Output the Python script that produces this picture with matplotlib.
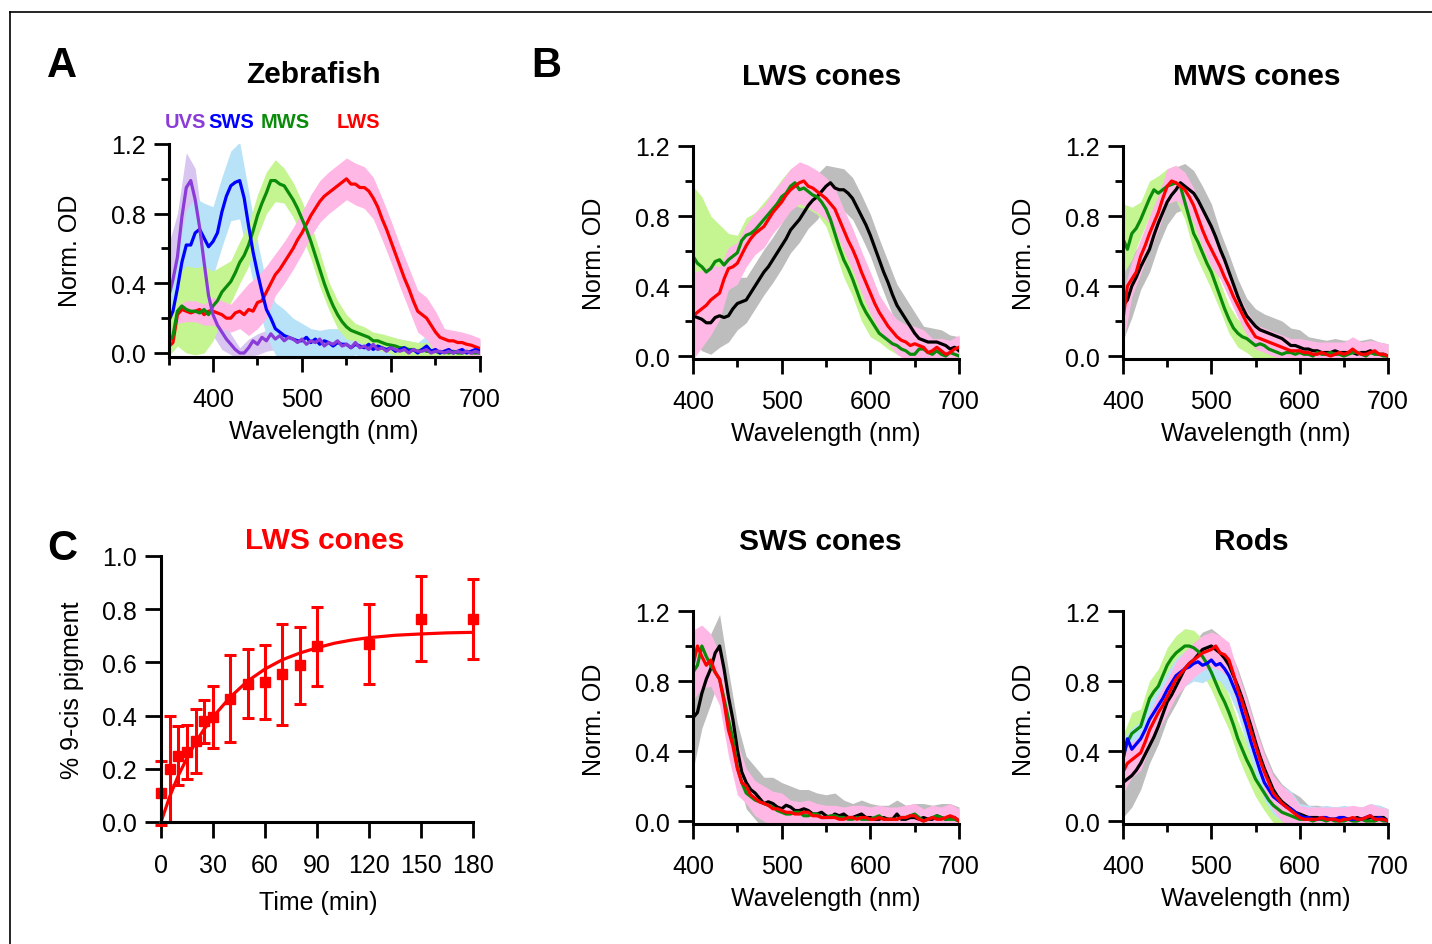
import numpy as np
import matplotlib
matplotlib.use("Agg")
import matplotlib.pyplot as plt
from matplotlib.lines import Line2D
from matplotlib.ticker import MultipleLocator

plt.rcParams["font.family"] = ["Liberation Sans", "DejaVu Sans"]

W, H = 1432, 945

# ---- data -------------------------------------------------------------
# panel A, 350-700 nm in 5 nm steps (bands in 10 nm steps)
wl_a = np.arange(350, 701, 5)
a_uvs = [0.32, 0.42, 0.55, 0.78, 0.95, 0.99, 0.88, 0.72, 0.52, 0.33,
         0.22, 0.16, 0.12, 0.08, 0.05, 0.02, 0.00, 0.00, 0.03, 0.07,
         0.05, 0.09, 0.07, 0.11, 0.08, 0.10, 0.07, 0.09, 0.08, 0.06,
         0.08, 0.05, 0.07, 0.06, 0.08, 0.04, 0.06, 0.05, 0.07, 0.04,
         0.05, 0.03, 0.06, 0.03, 0.04, 0.02, 0.05, 0.02, 0.03, 0.01,
         0.03, 0.02, 0.01, 0.02, 0.00, 0.02, 0.01, 0.01, 0.02, 0.00,
         0.01, 0.01, 0.00, 0.01, 0.00, 0.01, 0.00, 0.01, 0.00, 0.01,
         0.00]
a_sws = [0.18, 0.24, 0.37, 0.52, 0.62, 0.62, 0.69, 0.71, 0.66, 0.61,
         0.64, 0.69, 0.81, 0.90, 0.96, 0.98, 0.99, 0.89, 0.73, 0.58,
         0.46, 0.35, 0.25, 0.20, 0.14, 0.12, 0.10, 0.09, 0.08, 0.07,
         0.07, 0.09, 0.06, 0.08, 0.05, 0.07, 0.06, 0.04, 0.06, 0.05,
         0.05, 0.03, 0.05, 0.04, 0.03, 0.05, 0.02, 0.04, 0.03, 0.02,
         0.03, 0.01, 0.02, 0.03, 0.01, 0.02, 0.00, 0.02, 0.04, 0.01,
         0.02, 0.00, 0.01, 0.02, 0.00, 0.01, 0.02, 0.00, 0.01, 0.02,
         0.01]
a_mws = [0.06, 0.10, 0.24, 0.27, 0.25, 0.24, 0.24, 0.23, 0.25, 0.22,
         0.27, 0.30, 0.35, 0.38, 0.41, 0.46, 0.52, 0.56, 0.62, 0.70,
         0.79, 0.86, 0.92, 0.99, 0.99, 0.97, 0.96, 0.92, 0.88, 0.83,
         0.77, 0.71, 0.64, 0.56, 0.48, 0.40, 0.33, 0.27, 0.22, 0.18,
         0.15, 0.13, 0.12, 0.11, 0.10, 0.09, 0.07, 0.07, 0.06, 0.05,
         0.045, 0.04, 0.03, 0.03, 0.02, 0.02, 0.01, 0.02, 0.01, 0.01,
         0.01, 0.00, 0.01, 0.00, 0.01, 0.00, 0.00, 0.01, 0.00, 0.00,
         0.00]
a_lws = [0.035, 0.06, 0.22, 0.25, 0.24, 0.23, 0.24, 0.25, 0.22, 0.24,
         0.24, 0.23, 0.22, 0.20, 0.20, 0.23, 0.24, 0.22, 0.25, 0.24,
         0.29, 0.30, 0.35, 0.40, 0.45, 0.48, 0.52, 0.56, 0.60, 0.65,
         0.69, 0.74, 0.79, 0.83, 0.87, 0.90, 0.92, 0.94, 0.96, 0.98,
         1.00, 0.97, 0.97, 0.95, 0.95, 0.93, 0.89, 0.84, 0.77, 0.71,
         0.64, 0.57, 0.50, 0.43, 0.37, 0.30, 0.24, 0.22, 0.20, 0.16,
         0.12, 0.09, 0.08, 0.07, 0.07, 0.06, 0.06, 0.05, 0.045, 0.035,
         0.025]
a_uvs_sd = [0.30, 0.25, 0.20, 0.18, 0.15, 0.12, 0.10, 0.06, 0.03, 0.05,
            0.06, 0.06, 0.06, 0.06, 0.05, 0.05, 0.05, 0.05, 0.05, 0.05,
            0.04, 0.04, 0.04, 0.04, 0.04, 0.04, 0.04, 0.03, 0.03, 0.03,
            0.03, 0.03, 0.03, 0.03, 0.03, 0.03]
a_sws_sd = [0.15, 0.20, 0.20, 0.20, 0.20, 0.20, 0.20, 0.20, 0.22, 0.20,
            0.18, 0.15, 0.15, 0.15, 0.12, 0.10, 0.08, 0.08, 0.08, 0.08,
            0.08, 0.06, 0.06, 0.06, 0.06, 0.06, 0.06, 0.06, 0.06, 0.06,
            0.06, 0.06, 0.06, 0.06, 0.06, 0.06]
a_mws_sd = [0.08, 0.20, 0.25, 0.25, 0.25, 0.20, 0.15, 0.12, 0.12, 0.12,
            0.12, 0.12, 0.12, 0.10, 0.10, 0.10, 0.10, 0.10, 0.08, 0.08,
            0.07, 0.05, 0.05, 0.05, 0.05, 0.05, 0.05, 0.05, 0.05, 0.05,
            0.05, 0.05, 0.05, 0.05, 0.05, 0.05]
a_lws_sd = [0.03, 0.05, 0.06, 0.06, 0.06, 0.08, 0.08, 0.08, 0.10, 0.15,
            0.15, 0.15, 0.12, 0.12, 0.12, 0.12, 0.12, 0.12, 0.12, 0.12,
            0.12, 0.12, 0.12, 0.12, 0.12, 0.12, 0.12, 0.12, 0.12, 0.12,
            0.12, 0.06, 0.06, 0.06, 0.06, 0.06]

# panel B, 400-700 nm
wl_b = np.arange(400, 701, 5)
lws_green = [0.57, 0.53, 0.51, 0.48, 0.50, 0.54, 0.55, 0.52, 0.55, 0.57,
             0.59, 0.66, 0.69, 0.70, 0.72, 0.75, 0.78, 0.81, 0.84, 0.87,
             0.91, 0.93, 0.97, 0.99, 0.95, 0.96, 0.94, 0.92, 0.91, 0.88,
             0.84, 0.78, 0.70, 0.62, 0.55, 0.50, 0.44, 0.37, 0.30, 0.25,
             0.21, 0.17, 0.13, 0.11, 0.09, 0.07, 0.06, 0.04, 0.03, 0.01,
             0.01, 0.04, 0.04, 0.02, 0.01, 0.03, 0.01, 0.00, 0.02, 0.01,
             0.00]
lws_red = [0.23, 0.25, 0.27, 0.29, 0.32, 0.34, 0.36, 0.44, 0.50, 0.51,
           0.53, 0.58, 0.63, 0.67, 0.70, 0.72, 0.74, 0.78, 0.82, 0.85,
           0.88, 0.92, 0.95, 0.97, 0.99, 1.00, 0.97, 0.96, 0.94, 0.92,
           0.90, 0.87, 0.84, 0.78, 0.72, 0.66, 0.61, 0.55, 0.48, 0.42,
           0.36, 0.30, 0.25, 0.21, 0.17, 0.14, 0.11, 0.09, 0.08, 0.06,
           0.07, 0.06, 0.05, 0.02, 0.03, 0.05, 0.03, 0.01, 0.02, 0.04,
           0.05]
lws_black = [0.23, 0.22, 0.21, 0.19, 0.19, 0.22, 0.23, 0.22, 0.23, 0.27,
             0.30, 0.31, 0.32, 0.36, 0.40, 0.44, 0.48, 0.51, 0.55, 0.59,
             0.63, 0.67, 0.72, 0.75, 0.78, 0.82, 0.86, 0.89, 0.91, 0.94,
             0.97, 0.99, 0.96, 0.95, 0.95, 0.93, 0.90, 0.85, 0.80, 0.75,
             0.69, 0.62, 0.55, 0.48, 0.42, 0.35, 0.29, 0.25, 0.21, 0.17,
             0.13, 0.10, 0.09, 0.08, 0.08, 0.08, 0.07, 0.06, 0.04, 0.05,
             0.03]
lws_green_sd = [0.40, 0.40, 0.30, 0.20, 0.15, 0.10, 0.10, 0.10, 0.10, 0.10,
                0.10, 0.10, 0.10, 0.10, 0.10, 0.10, 0.10, 0.10, 0.10, 0.10,
                0.10, 0.05, 0.05, 0.05, 0.05, 0.05, 0.05, 0.05, 0.05, 0.05,
                0.05]
lws_red_sd = [0.25, 0.22, 0.20, 0.15, 0.12, 0.12, 0.12, 0.12, 0.12, 0.12,
              0.12, 0.12, 0.12, 0.12, 0.12, 0.12, 0.12, 0.12, 0.12, 0.12,
              0.12, 0.10, 0.10, 0.10, 0.10, 0.10, 0.10, 0.07, 0.07, 0.07,
              0.07]
lws_black_sd = [0.15, 0.18, 0.18, 0.18, 0.15, 0.15, 0.13, 0.13, 0.13, 0.13,
                0.13, 0.13, 0.13, 0.13, 0.13, 0.12, 0.12, 0.12, 0.12, 0.12,
                0.12, 0.12, 0.12, 0.12, 0.12, 0.12, 0.08, 0.08, 0.08, 0.08,
                0.08]

mws_green = [0.67, 0.61, 0.70, 0.73, 0.78, 0.84, 0.90, 0.95, 0.93, 0.95,
             0.97, 0.98, 0.99, 0.97, 0.88, 0.79, 0.70, 0.65, 0.59, 0.53,
             0.48, 0.41, 0.34, 0.27, 0.21, 0.16, 0.13, 0.11, 0.10, 0.08,
             0.06, 0.07, 0.06, 0.04, 0.03, 0.02, 0.01, 0.02, 0.02, 0.01,
             0.02, 0.01, 0.01, 0.00, 0.02, 0.01, 0.01, 0.02, 0.01, 0.01,
             0.00, 0.01, 0.02, 0.02, 0.01, 0.00, 0.02, 0.01, 0.01, 0.00,
             0.00]
mws_red = [0.21, 0.40, 0.44, 0.48, 0.57, 0.63, 0.70, 0.76, 0.82, 0.90,
           0.97, 1.00, 0.99, 0.97, 0.95, 0.91, 0.86, 0.79, 0.72, 0.66,
           0.61, 0.56, 0.51, 0.45, 0.40, 0.34, 0.29, 0.24, 0.19, 0.15,
           0.11, 0.10, 0.09, 0.08, 0.07, 0.06, 0.05, 0.04, 0.03, 0.03,
           0.03, 0.02, 0.02, 0.01, 0.01, 0.02, 0.01, 0.00, 0.01, 0.02,
           0.01, 0.02, 0.04, 0.02, 0.01, 0.01, 0.02, 0.03, 0.01, 0.01,
           0.00]
mws_black = [0.29, 0.32, 0.40, 0.45, 0.51, 0.56, 0.61, 0.69, 0.76, 0.82,
             0.88, 0.92, 0.95, 0.99, 0.97, 0.95, 0.93, 0.89, 0.84, 0.79,
             0.74, 0.68, 0.61, 0.55, 0.48, 0.41, 0.34, 0.28, 0.23, 0.20,
             0.17, 0.15, 0.14, 0.13, 0.12, 0.11, 0.10, 0.08, 0.06, 0.06,
             0.05, 0.04, 0.04, 0.03, 0.03, 0.02, 0.02, 0.02, 0.03, 0.02,
             0.02, 0.02, 0.02, 0.01, 0.02, 0.02, 0.03, 0.02, 0.01, 0.01,
             0.00]
mws_green_sd = [0.20, 0.15, 0.10, 0.10, 0.10, 0.10, 0.10, 0.10, 0.10, 0.10,
                0.10, 0.08, 0.08, 0.08, 0.08, 0.08, 0.08, 0.04, 0.04, 0.04,
                0.04, 0.04, 0.04, 0.04, 0.04, 0.04, 0.04, 0.04, 0.04, 0.04,
                0.04]
mws_red_sd = [0.15, 0.10, 0.10, 0.10, 0.10, 0.10, 0.10, 0.10, 0.10, 0.10,
              0.10, 0.07, 0.07, 0.07, 0.07, 0.07, 0.07, 0.07, 0.07, 0.07,
              0.07, 0.07, 0.07, 0.07, 0.07, 0.07, 0.07, 0.07, 0.07, 0.07,
              0.07]
mws_black_sd = [0.20, 0.18, 0.13, 0.13, 0.13, 0.13, 0.13, 0.13, 0.13, 0.13,
                0.13, 0.10, 0.10, 0.10, 0.10, 0.10, 0.10, 0.10, 0.10, 0.10,
                0.10, 0.07, 0.07, 0.07, 0.07, 0.07, 0.07, 0.07, 0.07, 0.07,
                0.07]

sws_black = [0.59, 0.62, 0.73, 0.81, 0.87, 0.96, 1.00, 0.87, 0.71, 0.58,
             0.41, 0.28, 0.22, 0.18, 0.16, 0.13, 0.10, 0.11, 0.10, 0.08,
             0.07, 0.09, 0.08, 0.06, 0.06, 0.07, 0.06, 0.04, 0.04, 0.05,
             0.03, 0.02, 0.04, 0.03, 0.04, 0.02, 0.02, 0.03, 0.04, 0.02,
             0.02, 0.01, 0.01, 0.02, 0.01, 0.01, 0.04, 0.01, 0.01, 0.02,
             0.02, 0.01, 0.02, 0.01, 0.01, 0.03, 0.02, 0.01, 0.02, 0.02,
             0.00]
sws_green = [0.85, 0.89, 1.00, 0.94, 0.89, 0.85, 0.81, 0.70, 0.58, 0.47,
             0.31, 0.22, 0.16, 0.14, 0.12, 0.11, 0.10, 0.09, 0.08, 0.06,
             0.05, 0.04, 0.04, 0.05, 0.05, 0.03, 0.03, 0.04, 0.04, 0.02,
             0.02, 0.03, 0.03, 0.02, 0.02, 0.01, 0.01, 0.02, 0.01, 0.01,
             0.01, 0.02, 0.03, 0.01, 0.01, 0.01, 0.01, 0.02, 0.02, 0.03,
             0.04, 0.02, 0.00, 0.01, 0.02, 0.03, 0.02, 0.01, 0.01, 0.01,
             0.00]
sws_red = [0.89, 1.00, 0.94, 0.89, 0.92, 0.85, 0.81, 0.68, 0.52, 0.43,
           0.30, 0.22, 0.20, 0.15, 0.13, 0.11, 0.10, 0.09, 0.07, 0.07,
           0.06, 0.05, 0.05, 0.04, 0.04, 0.05, 0.05, 0.03, 0.03, 0.02,
           0.02, 0.02, 0.02, 0.01, 0.01, 0.02, 0.02, 0.01, 0.02, 0.02,
           0.01, 0.01, 0.02, 0.01, 0.01, 0.01, 0.01, 0.02, 0.02, 0.03,
           0.03, 0.01, 0.00, 0.01, 0.02, 0.01, 0.01, 0.02, 0.03, 0.02,
           0.00]
sws_green_sd = [0.10, 0.10, 0.10, 0.10, 0.10, 0.08, 0.06, 0.05, 0.05, 0.05,
                0.05, 0.05, 0.05, 0.05, 0.05, 0.05, 0.05, 0.05, 0.05, 0.05,
                0.05, 0.05, 0.05, 0.05, 0.05, 0.05, 0.05, 0.05, 0.05, 0.05,
                0.05]
sws_red_sd = [0.20, 0.18, 0.15, 0.15, 0.15, 0.15, 0.10, 0.10, 0.10, 0.10,
              0.10, 0.07, 0.07, 0.07, 0.07, 0.07, 0.07, 0.07, 0.07, 0.07,
              0.07, 0.07, 0.07, 0.07, 0.07, 0.07, 0.07, 0.07, 0.07, 0.07,
              0.07]
sws_black_sd = [0.30, 0.20, 0.20, 0.18, 0.15, 0.15, 0.15, 0.15, 0.15, 0.15,
                0.15, 0.12, 0.12, 0.12, 0.12, 0.12, 0.12, 0.08, 0.08, 0.08,
                0.08, 0.08, 0.08, 0.08, 0.08, 0.08, 0.08, 0.08, 0.08, 0.08,
                0.08]

rod_green = [0.37, 0.45, 0.50, 0.52, 0.54, 0.62, 0.70, 0.74, 0.77, 0.83,
             0.89, 0.93, 0.96, 0.98, 1.00, 1.00, 0.99, 0.97, 0.94, 0.90,
             0.85, 0.79, 0.73, 0.68, 0.62, 0.55, 0.47, 0.41, 0.35, 0.30,
             0.24, 0.20, 0.16, 0.12, 0.09, 0.07, 0.05, 0.04, 0.03, 0.02,
             0.01, 0.01, 0.01, 0.00, 0.01, 0.01, 0.00, 0.01, 0.00, 0.00,
             0.00, 0.01, 0.00, 0.00, 0.01, 0.00, 0.00, 0.00, 0.01, 0.00,
             0.00]
rod_blue = [0.35, 0.47, 0.41, 0.44, 0.47, 0.52, 0.58, 0.62, 0.66, 0.70,
            0.75, 0.79, 0.83, 0.85, 0.87, 0.88, 0.90, 0.91, 0.89, 0.90,
            0.92, 0.89, 0.90, 0.87, 0.83, 0.77, 0.71, 0.62, 0.54, 0.45,
            0.37, 0.29, 0.22, 0.18, 0.14, 0.12, 0.10, 0.08, 0.07, 0.05,
            0.03, 0.02, 0.02, 0.01, 0.01, 0.02, 0.02, 0.01, 0.01, 0.02,
            0.02, 0.01, 0.01, 0.01, 0.01, 0.02, 0.03, 0.01, 0.02, 0.01,
            0.00]
rod_red = [0.28, 0.33, 0.35, 0.37, 0.39, 0.45, 0.52, 0.57, 0.62, 0.66,
           0.71, 0.76, 0.81, 0.84, 0.87, 0.90, 0.92, 0.94, 0.96, 0.97,
           0.98, 1.00, 0.96, 0.95, 0.92, 0.84, 0.75, 0.68, 0.60, 0.51,
           0.43, 0.35, 0.28, 0.22, 0.16, 0.13, 0.10, 0.08, 0.06, 0.04,
           0.02, 0.01, 0.01, 0.01, 0.01, 0.02, 0.01, 0.01, 0.01, 0.00,
           0.01, 0.01, 0.02, 0.01, 0.01, 0.02, 0.03, 0.01, 0.01, 0.01,
           0.00]
rod_black = [0.22, 0.24, 0.26, 0.29, 0.33, 0.38, 0.43, 0.48, 0.54, 0.61,
             0.68, 0.72, 0.77, 0.82, 0.87, 0.90, 0.92, 0.95, 0.98, 0.99,
             1.00, 0.98, 0.96, 0.93, 0.89, 0.83, 0.77, 0.70, 0.62, 0.54,
             0.45, 0.37, 0.30, 0.24, 0.18, 0.14, 0.11, 0.09, 0.07, 0.05,
             0.04, 0.03, 0.02, 0.02, 0.02, 0.01, 0.01, 0.01, 0.01, 0.01,
             0.01, 0.01, 0.01, 0.02, 0.01, 0.01, 0.02, 0.02, 0.02, 0.02,
             0.00]
rod_green_sd = [0.12, 0.12, 0.10, 0.10, 0.10, 0.10, 0.10, 0.10, 0.10, 0.10,
                0.10, 0.10, 0.10, 0.10, 0.10, 0.10, 0.10, 0.10, 0.10, 0.10,
                0.06, 0.06, 0.06, 0.06, 0.06, 0.06, 0.06, 0.06, 0.06, 0.06,
                0.06]
rod_blue_sd = [0.12, 0.12, 0.10, 0.10, 0.10, 0.10, 0.10, 0.10, 0.10, 0.10,
               0.10, 0.10, 0.10, 0.10, 0.10, 0.10, 0.10, 0.10, 0.10, 0.10,
               0.07, 0.07, 0.07, 0.07, 0.07, 0.07, 0.07, 0.07, 0.07, 0.07,
               0.07]
rod_red_sd = [0.12, 0.10, 0.10, 0.10, 0.10, 0.10, 0.10, 0.10, 0.10, 0.10,
              0.10, 0.10, 0.10, 0.10, 0.10, 0.10, 0.10, 0.10, 0.10, 0.10,
              0.07, 0.07, 0.07, 0.07, 0.07, 0.07, 0.07, 0.07, 0.07, 0.07,
              0.07]
rod_black_sd = [0.20, 0.18, 0.15, 0.10, 0.10, 0.10, 0.10, 0.10, 0.10, 0.10,
                0.10, 0.10, 0.10, 0.10, 0.10, 0.10, 0.10, 0.10, 0.10, 0.10,
                0.10, 0.07, 0.07, 0.07, 0.07, 0.07, 0.07, 0.07, 0.07, 0.07,
                0.07]

# panel C
time_min = [0, 5, 10, 15, 20, 25, 30, 40, 50, 60, 70, 80, 90, 120, 150, 180]
cis9 = [0.11, 0.20, 0.25, 0.263, 0.305, 0.378, 0.395, 0.464, 0.52, 0.526,
        0.555, 0.589, 0.66, 0.668, 0.764, 0.762]
cis9_err = [0.12, 0.20, 0.11, 0.10, 0.12, 0.08, 0.117, 0.162, 0.13, 0.138,
            0.19, 0.145, 0.15, 0.15, 0.16, 0.15]
fit_t = [0, 5, 10, 15, 20, 25, 30, 40, 50, 60, 70, 80, 90, 100, 110, 120,
         135, 150, 165, 180]
fit_y = [0.0, 0.095, 0.175, 0.24, 0.30, 0.35, 0.395, 0.47, 0.53, 0.575,
         0.61, 0.635, 0.655, 0.672, 0.684, 0.693, 0.702, 0.707, 0.711, 0.713]

# colours
PURPLE, LAVENDER = "#8a3bd8", "#d9c6f0"
BLUE, LIGHTBLUE = "#0000ff", "#b8e2f8"
GREEN, LIGHTGREEN = "#0a8c0a", "#c4f590"
RED, PINK = "#ff0000", "#ffb8e6"
BLACK, GRAY = "#000000", "#bdbdbd"

LABEL_FS = 18
TITLE_FS = 21.5
LW = 2.3


def fx(px):
    return px / W


def fy(py):
    return 1 - py / H


def make_axes(fig, left, top, right, bottom):
    ax = fig.add_axes([fx(left), fy(bottom), (right - left) / W, (bottom - top) / H])
    for side in ("top", "right"):
        ax.spines[side].set_visible(False)
    for side in ("left", "bottom"):
        ax.spines[side].set_linewidth(2.2)
    ax.tick_params(which="major", direction="out", length=10.5, width=2.0,
                   labelsize=LABEL_FS, pad=6)
    ax.tick_params(axis="x", which="major", pad=11)
    ax.tick_params(which="minor", direction="out", length=5.5, width=2.0)
    return ax


def spectrum_axes(ax, xmin, ymin):
    ax.set_xlim(xmin, 700)
    ax.set_ylim(ymin, 1.2)
    ax.set_xticks([400, 500, 600, 700])
    ax.xaxis.set_minor_locator(MultipleLocator(50))
    ax.set_yticks([0.0, 0.4, 0.8, 1.2])
    ax.set_yticklabels(["0.0", "0.4", "0.8", "1.2"])
    ax.yaxis.set_minor_locator(MultipleLocator(0.2))


def band(ax, wl, mean, sd, color):
    m = np.asarray(mean)[::2]
    s = np.asarray(sd)
    ax.fill_between(wl[::2], m - s, m + s, color=color, lw=0)


fig = plt.figure(figsize=(W / 100, H / 100), dpi=100)

# frame lines
fig.add_artist(Line2D([fx(10), fx(10)], [fy(13), 0], transform=fig.transFigure,
                      color="black", lw=1.2))
fig.add_artist(Line2D([fx(10), 1], [fy(13), fy(13)], transform=fig.transFigure,
                      color="black", lw=1.2))

# ---- panel A ----------------------------------------------------------
ax = make_axes(fig, 168.5, 145, 480, 358)
spectrum_axes(ax, 350, -0.023)
band(ax, wl_a, a_uvs, a_uvs_sd, LAVENDER)
band(ax, wl_a, a_sws, a_sws_sd, LIGHTBLUE)
band(ax, wl_a, a_mws, a_mws_sd, LIGHTGREEN)
band(ax, wl_a, a_lws, a_lws_sd, PINK)
ax.plot(wl_a, a_lws, color=RED, lw=LW)
ax.plot(wl_a, a_mws, color=GREEN, lw=LW)
ax.plot(wl_a, a_sws, color=BLUE, lw=LW)
ax.plot(wl_a, a_uvs, color=PURPLE, lw=LW)

for txt, xc, col in [("UVS", 185, PURPLE), ("SWS", 231, BLUE),
                     ("MWS", 285, GREEN), ("LWS", 358, RED)]:
    fig.text(fx(xc), fy(123), txt, color=col, fontsize=14.5, fontweight="bold",
             ha="center", va="center")

# ---- panel B ----------------------------------------------------------
b_panels = [
    ((693, 147, 959, 360), [(lws_black, lws_black_sd, BLACK, GRAY),
                            (lws_green, lws_green_sd, GREEN, LIGHTGREEN),
                            (lws_red, lws_red_sd, RED, PINK)]),
    ((1123, 147, 1388, 360), [(mws_black, mws_black_sd, BLACK, GRAY),
                              (mws_green, mws_green_sd, GREEN, LIGHTGREEN),
                              (mws_red, mws_red_sd, RED, PINK)]),
    ((693, 612, 959, 825), [(sws_black, sws_black_sd, BLACK, GRAY),
                            (sws_green, sws_green_sd, GREEN, LIGHTGREEN),
                            (sws_red, sws_red_sd, RED, PINK)]),
    ((1123, 612, 1388, 825), [(rod_black, rod_black_sd, BLACK, GRAY),
                              (rod_green, rod_green_sd, GREEN, LIGHTGREEN),
                              (rod_blue, rod_blue_sd, BLUE, LIGHTBLUE),
                              (rod_red, rod_red_sd, RED, PINK)]),
]
for box, series in b_panels:
    ax = make_axes(fig, *box)
    spectrum_axes(ax, 400, -0.017)
    for mean, sd, col, light in series:
        band(ax, wl_b, mean, sd, light)
    for mean, sd, col, light in series:
        ax.plot(wl_b, mean, color=col, lw=LW)

# ---- panel C ----------------------------------------------------------
ax = make_axes(fig, 161, 557, 473, 823)
ax.set_xlim(0, 180)
ax.set_ylim(0, 1.0)
ax.set_xticks([0, 30, 60, 90, 120, 150, 180])
ax.set_yticks([0.0, 0.2, 0.4, 0.6, 0.8, 1.0])
ax.set_yticklabels(["0.0", "0.2", "0.4", "0.6", "0.8", "1.0"])
ax.tick_params(which="major", length=11.5)
ax.plot(fit_t, fit_y, color=RED, lw=LW, clip_on=False)
ax.errorbar(time_min, cis9, yerr=cis9_err, fmt="s", color=RED, ms=7,
            capsize=4, elinewidth=2.2, capthick=2.2, clip_on=False)

# ---- texts ------------------------------------------------------------
for txt, xc, yc in [("A", 62, 66), ("B", 546, 66), ("C", 62, 549)]:
    fig.text(fx(xc), fy(yc), txt, fontsize=30, fontweight="bold",
             ha="center", va="center")

for txt, xc, yc, col in [("Zebrafish", 313, 75, "black"),
                         ("LWS cones", 822, 77, "black"),
                         ("MWS cones", 1257, 77, "black"),
                         ("SWS cones", 820, 542, "black"),
                         ("Rods", 1251, 542, "black"),
                         ("LWS cones", 325, 541, RED)]:
    fig.text(fx(xc), fy(yc), txt, fontsize=TITLE_FS, fontweight="bold",
             color=col, ha="center", va="center")

for xc, yc in [(324, 432), (826, 434), (1256, 434), (826, 899), (1256, 899)]:
    fig.text(fx(xc), fy(yc), "Wavelength (nm)", fontsize=LABEL_FS,
             ha="center", va="center")
fig.text(fx(318), fy(903), "Time (min)", fontsize=LABEL_FS, ha="center", va="center")

for xc, yc in [(70, 251), (594, 254), (1024, 254), (594, 720), (1024, 720)]:
    fig.text(fx(xc), fy(yc), "Norm. OD", fontsize=LABEL_FS, rotation=90,
             ha="center", va="center")
fig.text(fx(72), fy(690), "% 9-cis pigment", fontsize=LABEL_FS, rotation=90,
         ha="center", va="center")

fig.savefig("out.png", dpi=100)
